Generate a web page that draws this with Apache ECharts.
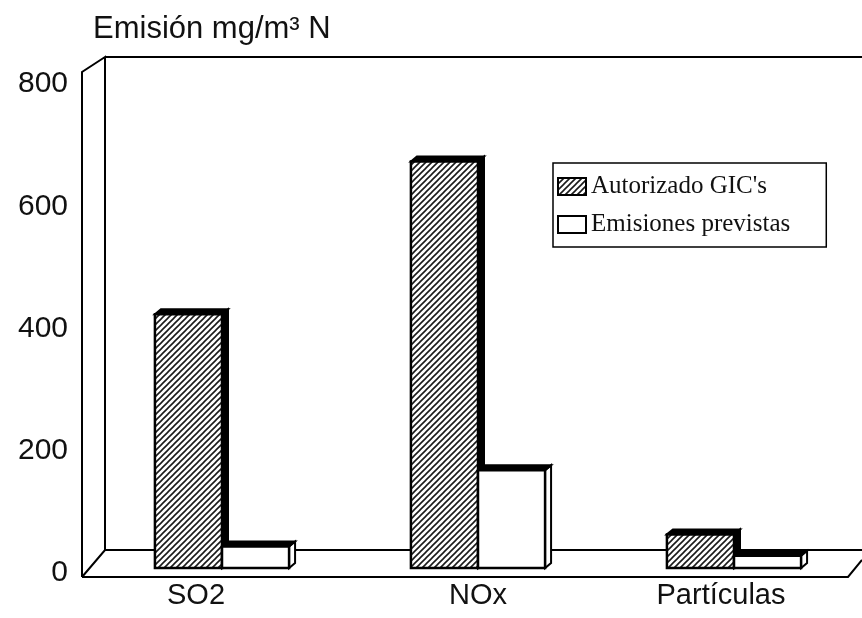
<!DOCTYPE html>
<html><head><meta charset="utf-8">
<script src="https://cdn.jsdelivr.net/npm/echarts@6/dist/echarts.min.js"></script>
<style>html,body{margin:0;padding:0;background:#fff}#c{width:862px;height:618px}</style>
</head><body><div id="c"></div>
<script>
const categories = ['SO2', 'NOx', 'Partículas'];
const autorizado = [415, 665, 55];
const previstas = [35, 160, 20];
const yTicks = [0, 200, 400, 600, 800];
const seriesNames = ["Autorizado GIC's", 'Emisiones previstas'];
const titleText = 'Emisión mg/m³ N';

function hatch() {
  const c = document.createElement('canvas'); c.width = 6; c.height = 6;
  const g = c.getContext('2d');
  g.fillStyle = '#fff'; g.fillRect(0, 0, 6, 6);
  g.strokeStyle = '#1a1a1a'; g.lineWidth = 1.6; g.beginPath();
  g.moveTo(-1, 7); g.lineTo(7, -1);
  g.moveTo(-1, 1); g.lineTo(1, -1);
  g.moveTo(5, 7); g.lineTo(7, 5);
  g.stroke();
  return c;
}
const pattern = { image: hatch(), repeat: 'repeat' };

function barRender(si) {
  return function (params, api) {
    const ci = api.value(0), v = api.value(1);
    const base = api.coord([ci, 0]), top = api.coord([ci, v]);
    const band = api.size([1, 0])[0];
    const bw = band * 0.262;
    const lift = 5;
    const x0 = base[0] + (si === 0 ? -bw : 0);
    const yb = base[1] - lift, yt = top[1] - lift;
    const dx = 6, dy = -5;
    return {
      type: 'group',
      children: [
        { type: 'polygon', shape: { points: [[x0 + bw, yt], [x0 + bw + dx, yt + dy], [x0 + bw + dx, yb + dy], [x0 + bw, yb]] },
          style: { fill: si === 0 ? '#000' : '#fff', stroke: '#000', lineWidth: 2 } },
        { type: 'polygon', shape: { points: [[x0, yt], [x0 + dx, yt + dy], [x0 + bw + dx, yt + dy], [x0 + bw, yt]] },
          style: { fill: '#000', stroke: '#000', lineWidth: 2 } },
        { type: 'rect', shape: { x: x0, y: yt, width: bw, height: yb - yt },
          style: { fill: si === 0 ? pattern : '#fff', stroke: '#000', lineWidth: 2.5 } }
      ]
    };
  };
}

function frameRender(params, api) {
  const cs = params.coordSys;
  const L = cs.x, R = cs.x + cs.width, T = cs.y;
  const y0 = api.coord([0, 0])[1];
  const st = { stroke: '#000', lineWidth: 2, fill: null };
  return {
    type: 'group',
    children: [
      { type: 'polyline', shape: { points: [[L - 12, y0 + 4], [L - 12, T - 12], [L + 11, T - 27], [L + 11, y0 - 23]] }, style: st },
      { type: 'polyline', shape: { points: [[L + 11, T - 27], [R, T - 27]] }, style: st },
      { type: 'polyline', shape: { points: [[L - 12, y0 + 4], [R - 14, y0 + 4], [R, y0 - 13]] }, style: st },
      { type: 'polyline', shape: { points: [[L - 12, y0 + 4], [L + 11, y0 - 23], [R, y0 - 23]] }, style: st }
    ]
  };
}

const chart = echarts.init(document.getElementById('c'));
chart.setOption({
  animation: false,
  backgroundColor: '#fff',
  title: { text: titleText, left: 88, top: 9,
    textStyle: { fontFamily: 'Liberation Sans', fontSize: 31, fontWeight: 'normal', color: '#111' } },
  legend: {
    orient: 'vertical', left: 553, top: 163,
    borderColor: '#000', borderWidth: 1.5, padding: [11, 36, 10, 4], itemGap: 13,
    itemWidth: 28, itemHeight: 17,
    textStyle: { fontFamily: 'Liberation Serif', fontSize: 25, color: '#111' },
    data: [
      { name: seriesNames[0], icon: 'rect', itemStyle: { color: pattern, borderColor: '#000', borderWidth: 2 } },
      { name: seriesNames[1], icon: 'rect', itemStyle: { color: '#fff', borderColor: '#000', borderWidth: 2 } }
    ]
  },
  grid: { left: 94, right: 0, top: 84, bottom: 45 },
  xAxis: {
    type: 'category', data: categories,
    axisLine: { show: false }, axisTick: { show: false },
    axisLabel: {
      margin: 8, color: '#111', fontFamily: 'Liberation Sans', fontSize: 29,
      formatter: (v, i) => '{s' + i + '|' + v + '}',
      rich: { s0: { padding: [0, 52, 0, 0] }, s1: { padding: [0, 0, 0, 0] }, s2: { padding: [0, 26, 0, 0] } }
    }
  },
  yAxis: {
    type: 'value', min: yTicks[0], max: yTicks[yTicks.length - 1], interval: yTicks[1] - yTicks[0],
    axisLine: { show: false }, axisTick: { show: false }, splitLine: { show: false },
    axisLabel: { margin: 26, color: '#111', fontFamily: 'Liberation Sans', fontSize: 30 }
  },
  series: [
    { type: 'custom', name: 'frame', renderItem: frameRender, data: [[0, 0]], silent: true, z: 1 },
    { type: 'custom', name: seriesNames[0], renderItem: barRender(0), itemStyle: { color: '#555' },
      data: categories.map((c, i) => [i, autorizado[i]]), encode: { x: 0, y: 1 }, z: 2 },
    { type: 'custom', name: seriesNames[1], renderItem: barRender(1), itemStyle: { color: '#fff' },
      data: categories.map((c, i) => [i, previstas[i]]), encode: { x: 0, y: 1 }, z: 3 }
  ]
});
</script></body></html>
